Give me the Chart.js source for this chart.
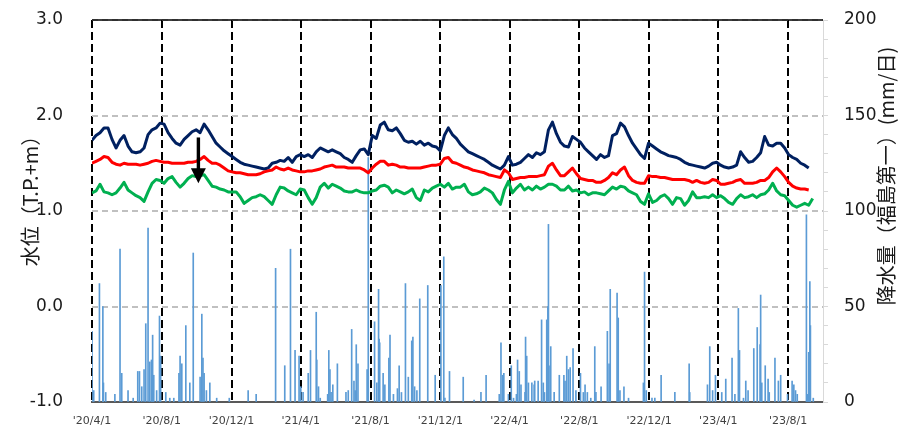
<!DOCTYPE html>
<html lang="ja">
<head>
<meta charset="utf-8">
<script src="https://cdn.jsdelivr.net/npm/chart.js@4.4.0/dist/chart.umd.min.js"></script>
<style>
  html, body { margin: 0; padding: 0; background: #fff; }
</style>
</head>
<body>
<canvas id="chart" width="904" height="425"></canvas>
<script>
// Day 0 of the time axis; everything below is in days from here
const startDate = '2020-04-01';
const endDate = '2023-10-01';

const tickDates = ['2020-04-01', '2020-08-01', '2020-12-01', '2021-04-01', '2021-08-01', '2021-12-01',
  '2022-04-01', '2022-08-01', '2022-12-01', '2023-04-01', '2023-08-01'];

// Water level (T.P.+m), one reading every 7 days from startDate
const levelStepDays = 7;

const navyLevel = [
  1.74, 1.79, 1.82, 1.87, 1.87, 1.75, 1.66, 1.74, 1.79, 1.68, 1.62, 1.61, 1.62, 1.66, 1.80, 1.85,
  1.87, 1.92, 1.91, 1.82, 1.76, 1.71, 1.69, 1.75, 1.79, 1.83, 1.85, 1.82, 1.91, 1.85, 1.78,
  1.71, 1.67, 1.63, 1.60, 1.57, 1.54, 1.51, 1.49, 1.48, 1.47, 1.46, 1.45, 1.44, 1.45, 1.50,
  1.51, 1.53, 1.52, 1.56, 1.51, 1.57, 1.59, 1.57, 1.59, 1.56, 1.62, 1.66, 1.64, 1.62, 1.64,
  1.62, 1.60, 1.56, 1.54, 1.51, 1.58, 1.64, 1.65, 1.59, 1.79, 1.76, 1.90, 1.93, 1.85, 1.84,
  1.87, 1.81, 1.74, 1.72, 1.73, 1.70, 1.73, 1.69, 1.71, 1.68, 1.67, 1.63, 1.79, 1.87, 1.80,
  1.76, 1.70, 1.66, 1.62, 1.60, 1.58, 1.56, 1.54, 1.51, 1.48, 1.46, 1.44, 1.48, 1.57, 1.48,
  1.49, 1.51, 1.55, 1.59, 1.56, 1.61, 1.59, 1.62, 1.85, 1.93, 1.81, 1.72, 1.68, 1.67, 1.78, 1.75,
  1.72, 1.66, 1.62, 1.58, 1.54, 1.59, 1.56, 1.58, 1.79, 1.81, 1.92, 1.88, 1.79, 1.71, 1.65,
  1.59, 1.55, 1.71, 1.68, 1.65, 1.62, 1.60, 1.58, 1.57, 1.56, 1.54, 1.51, 1.49, 1.48, 1.47,
  1.46, 1.45, 1.47, 1.50, 1.51, 1.48, 1.46, 1.45, 1.46, 1.48, 1.62, 1.56, 1.51, 1.52, 1.56,
  1.61, 1.78, 1.69, 1.68, 1.71, 1.71, 1.66, 1.59, 1.56, 1.54, 1.50, 1.48, 1.45
];

const redLevel = [
  1.50, 1.52, 1.54, 1.57, 1.56, 1.51, 1.49, 1.48, 1.50, 1.49, 1.49, 1.49, 1.48, 1.49, 1.50, 1.52,
  1.53, 1.52, 1.51, 1.51, 1.50, 1.50, 1.50, 1.50, 1.51, 1.51, 1.52, 1.54, 1.57, 1.53, 1.50,
  1.50, 1.48, 1.45, 1.42, 1.41, 1.40, 1.40, 1.39, 1.38, 1.38, 1.38, 1.39, 1.41, 1.42, 1.43,
  1.46, 1.44, 1.43, 1.45, 1.43, 1.42, 1.41, 1.41, 1.42, 1.42, 1.43, 1.44, 1.46, 1.47, 1.48,
  1.46, 1.46, 1.46, 1.45, 1.45, 1.45, 1.45, 1.43, 1.40, 1.45, 1.49, 1.52, 1.52, 1.48, 1.49,
  1.48, 1.46, 1.46, 1.45, 1.45, 1.45, 1.45, 1.46, 1.47, 1.48, 1.48, 1.49, 1.55, 1.56, 1.51,
  1.50, 1.48, 1.46, 1.45, 1.43, 1.42, 1.41, 1.40, 1.38, 1.37, 1.36, 1.35, 1.43, 1.40, 1.33,
  1.34, 1.35, 1.35, 1.36, 1.36, 1.36, 1.37, 1.38, 1.47, 1.50, 1.43, 1.37, 1.37, 1.41, 1.45, 1.39,
  1.34, 1.33, 1.32, 1.32, 1.30, 1.30, 1.32, 1.35, 1.40, 1.38, 1.43, 1.46, 1.37, 1.32, 1.30,
  1.29, 1.29, 1.37, 1.36, 1.36, 1.35, 1.35, 1.34, 1.33, 1.33, 1.33, 1.33, 1.32, 1.30, 1.32,
  1.30, 1.29, 1.30, 1.33, 1.32, 1.28, 1.28, 1.29, 1.30, 1.32, 1.33, 1.29, 1.29, 1.29, 1.30,
  1.32, 1.32, 1.35, 1.41, 1.45, 1.41, 1.36, 1.30, 1.26, 1.24, 1.23, 1.23, 1.22
];

const greenLevel = [
  1.19, 1.21, 1.28, 1.20, 1.19, 1.17, 1.19, 1.24, 1.30, 1.22, 1.19, 1.16, 1.14, 1.10, 1.20, 1.29,
  1.33, 1.32, 1.29, 1.34, 1.36, 1.30, 1.25, 1.29, 1.34, 1.37, 1.36, 1.37, 1.38, 1.32, 1.26,
  1.25, 1.23, 1.22, 1.20, 1.20, 1.20, 1.15, 1.08, 1.11, 1.14, 1.15, 1.17, 1.15, 1.11, 1.07,
  1.17, 1.25, 1.24, 1.21, 1.19, 1.17, 1.23, 1.22, 1.14, 1.07, 1.14, 1.25, 1.29, 1.24, 1.28,
  1.26, 1.24, 1.21, 1.20, 1.20, 1.22, 1.20, 1.19, 1.19, 1.21, 1.22, 1.26, 1.27, 1.25, 1.19,
  1.22, 1.20, 1.18, 1.20, 1.23, 1.14, 1.11, 1.22, 1.20, 1.24, 1.26, 1.28, 1.25, 1.29, 1.23,
  1.25, 1.25, 1.28, 1.20, 1.17, 1.18, 1.20, 1.24, 1.22, 1.19, 1.12, 1.07, 1.22, 1.31, 1.19,
  1.24, 1.28, 1.22, 1.25, 1.22, 1.26, 1.23, 1.25, 1.28, 1.28, 1.26, 1.22, 1.22, 1.26, 1.21, 1.22,
  1.19, 1.20, 1.17, 1.19, 1.19, 1.18, 1.17, 1.21, 1.25, 1.23, 1.26, 1.25, 1.21, 1.19, 1.17,
  1.10, 1.07, 1.18, 1.09, 1.11, 1.15, 1.17, 1.13, 1.07, 1.14, 1.13, 1.06, 1.11, 1.20, 1.14,
  1.14, 1.15, 1.14, 1.17, 1.14, 1.16, 1.13, 1.09, 1.07, 1.13, 1.17, 1.14, 1.15, 1.17, 1.14,
  1.17, 1.18, 1.22, 1.29, 1.21, 1.17, 1.16, 1.11, 1.06, 1.04, 1.06, 1.08, 1.06, 1.13
];

// Daily rainfall (mm/day), only days with rain; day = days since startDate
const rainDay = [
  0, 3, 13, 19, 20, 24, 40, 49, 52, 63, 72, 80, 83, 87, 91, 94, 98, 101, 104, 106, 108, 113, 118, 120,
  129, 136, 143, 152, 154, 157, 164, 171, 177, 189, 192, 194, 196, 200, 206, 218, 240, 273, 287,
  321, 337, 347, 355, 362, 365, 369, 378, 382, 392, 393, 396, 399, 412, 414, 416, 418, 421, 429,
  444, 448, 454, 458, 460, 462, 465, 481, 483, 494, 498, 501, 502, 503, 509, 512, 519, 521, 527,
  534, 537, 541, 548, 553, 559, 561, 564, 568, 573, 587, 600, 610, 615, 617, 625, 649, 668, 680,
  689, 712, 715, 718, 720, 728, 733, 737, 742, 744, 747, 750, 757, 758, 760, 763, 769, 773, 774,
  780, 786, 789, 791, 795, 797, 798, 799, 802, 808, 817, 825, 827, 830, 833, 836, 841, 846, 854,
  859, 862, 866, 872, 879, 881, 890, 901, 904, 906, 918, 920, 923, 930, 938, 964, 966, 969, 979,
  984, 995, 1019, 1044, 1045, 1076, 1080, 1085, 1090, 1101, 1108, 1119, 1124, 1130, 1132, 1139,
  1143, 1147, 1157, 1163, 1168, 1169, 1171, 1177, 1182, 1184, 1194, 1200, 1204, 1216, 1224, 1227,
  1230, 1233, 1249, 1251, 1253, 1255, 1256, 1261
];
const rainMm = [
  37, 6, 62, 50, 10, 5, 4, 80, 15, 6, 2, 16, 16, 8, 17, 41, 91, 21, 22, 35, 14, 6, 45, 24,
  5, 2, 2, 15, 24, 20, 40, 10, 78, 13, 46, 23, 15, 6, 10, 2, 2, 6, 4,
  70, 19, 80, 27, 24, 8, 5, 15, 27, 47, 22, 8, 2, 4, 27, 17, 5, 9, 20,
  5, 6, 38, 11, 6, 30, 20, 17, 128, 42, 10, 59, 33, 31, 15, 9, 23, 35, 4,
  7, 19, 5, 62, 13, 32, 34, 8, 6, 54, 61, 14, 61, 76, 2, 16, 13, 1, 5,
  14, 4, 31, 14, 15, 4, 19, 2, 4, 22, 16, 9, 5, 34, 24, 10, 10, 9, 11,
  11, 43, 10, 5, 43, 50, 93, 19, 29, 5, 14, 14, 11, 24, 17, 18, 28, 6, 15,
  5, 9, 5, 2, 29, 5, 8, 37, 20, 59, 57, 44, 6, 8, 2, 10, 68, 6, 2,
  2, 14, 5, 20, 5, 9, 29, 6, 14, 5, 12, 23, 4, 49, 27, 2,
  11, 6, 28, 39, 30, 56, 10, 19, 12, 5, 23, 11, 14, 4, 11, 9,
  6, 4, 98, 4, 26, 63, 40, 2
];

// Downward arrow marking the autumn 2020 drop
const arrowDay = 186;
const arrowFrom = 1.77;
const arrowTo = 1.29;

const dayOf = d => Math.round((Date.parse(d) - Date.parse(startDate)) / 86400000);
const tickDays = tickDates.map(dayOf);
const tickLabels = tickDates.map(d => {
  const [y, m, dd] = d.split('-');
  return "'" + y.slice(2) + '/' + Number(m) + '/' + Number(dd);
});

const toPoints = values => values.map((v, i) => ({ x: i * levelStepDays, y: v }));

const numFont = 'DejaVu Sans';
const jpFont = '"Noto Sans CJK JP", "Noto Sans", sans-serif';

const lineStyle = color => ({
  type: 'line',
  yAxisID: 'y',
  borderColor: color,
  backgroundColor: color,
  borderWidth: 3,
  pointRadius: 0,
  tension: 0,
  borderJoinStyle: 'round',
  fill: false
});

// keep the tick label padding from pushing the plot area in
const noEdgePadding = s => {
  s.paddingTop = 0;
  s.paddingBottom = 0;
  s.paddingLeft = 0;
  s.paddingRight = 0;
};

// Axis titles, top frame line and the arrow
const decorations = {
  id: 'decorations',
  afterDatasetsDraw(chart) {
    const { ctx, scales } = chart;
    const ax = scales.x.getPixelForValue(arrowDay);
    const y0 = scales.y.getPixelForValue(arrowFrom);
    const y1 = scales.y.getPixelForValue(arrowTo);
    ctx.save();
    ctx.fillStyle = '#000';
    ctx.fillRect(ax - 1.7, y0, 3.4, y1 - y0 - 14);
    ctx.beginPath();
    ctx.moveTo(ax - 7.5, y1 - 15);
    ctx.lineTo(ax + 7.5, y1 - 15);
    ctx.lineTo(ax, y1);
    ctx.closePath();
    ctx.fill();
    ctx.restore();
  },
  afterDraw(chart) {
    const { ctx, chartArea: a } = chart;
    ctx.save();
    ctx.strokeStyle = '#000';
    ctx.lineWidth = 1.5;
    ctx.beginPath();
    ctx.moveTo(a.left, a.top);
    ctx.lineTo(a.right, a.top);
    ctx.stroke();

    ctx.fillStyle = '#1a1a1a';
    ctx.font = '20px ' + jpFont;
    ctx.textAlign = 'center';
    ctx.textBaseline = 'middle';

    ctx.save();
    ctx.translate(30, 196);
    ctx.rotate(-Math.PI / 2);
    ctx.fillText('水位（T.P.+m）', 0, 0);
    ctx.restore();

    ctx.save();
    ctx.translate(886, 176);
    ctx.rotate(-Math.PI / 2);
    ctx.fillText('降水量（福島第一）(mm/日)', 0, 0);
    ctx.restore();

    ctx.restore();
  }
};

new Chart(document.getElementById('chart'), {
  type: 'line',
  data: {
    datasets: [
      { ...lineStyle('#002060'), label: '水位1', data: toPoints(navyLevel), order: 3 },
      { ...lineStyle('#ff0000'), label: '水位2', data: toPoints(redLevel), order: 2 },
      { ...lineStyle('#00b050'), label: '水位3', data: toPoints(greenLevel), order: 1 },
      {
        type: 'bar',
        label: '降水量',
        yAxisID: 'y2',
        data: rainDay.map((d, i) => ({ x: d, y: rainMm[i] })),
        backgroundColor: '#5b9bd5',
        barThickness: 1,
        grouped: false,
        order: 5
      }
    ]
  },
  options: {
    responsive: false,
    animation: false,
    layout: { padding: { top: 20, left: 0, right: 0, bottom: 0 } },
    plugins: { legend: { display: false }, tooltip: { enabled: false } },
    scales: {
      x: {
        type: 'linear',
        min: 0,
        max: dayOf(endDate),
        offset: false,
        afterBuildTicks: s => { s.ticks = tickDays.map(v => ({ value: v })); },
        afterFit: s => { s.height = 23; noEdgePadding(s); },
        ticks: {
          autoSkip: false,
          maxRotation: 0,
          padding: 13,
          color: '#404040',
          font: { family: numFont, size: 11 },
          callback: v => tickLabels[tickDays.indexOf(v)] ?? ''
        },
        grid: { color: '#000', lineWidth: 2, drawTicks: false, offset: false },
        border: { display: true, color: '#595959', width: 2, dash: [8, 4] }
      },
      y: {
        position: 'left',
        min: -1,
        max: 3,
        afterFit: s => { s.width = 92; noEdgePadding(s); },
        ticks: {
          stepSize: 1,
          padding: 29,
          color: '#1a1a1a',
          font: { family: numFont, size: 17 },
          callback: v => v.toFixed(1)
        },
        grid: { color: '#c0c0c0', lineWidth: 2, drawTicks: false },
        border: { display: false, dash: [6, 4] }
      },
      y2: {
        position: 'right',
        min: 0,
        max: 200,
        afterFit: s => { s.width = 81; noEdgePadding(s); },
        ticks: {
          stepSize: 10,
          autoSkip: false,
          padding: 16,
          color: '#1a1a1a',
          font: { family: numFont, size: 17 },
          callback: v => (v % 50 === 0 ? v : '')
        },
        grid: { drawOnChartArea: false, drawTicks: true, tickLength: 5, color: '#d9d9d9', lineWidth: 1 },
        border: { display: true, color: '#d9d9d9', width: 1 }
      }
    }
  },
  plugins: [decorations]
});
</script>
</body>
</html>
